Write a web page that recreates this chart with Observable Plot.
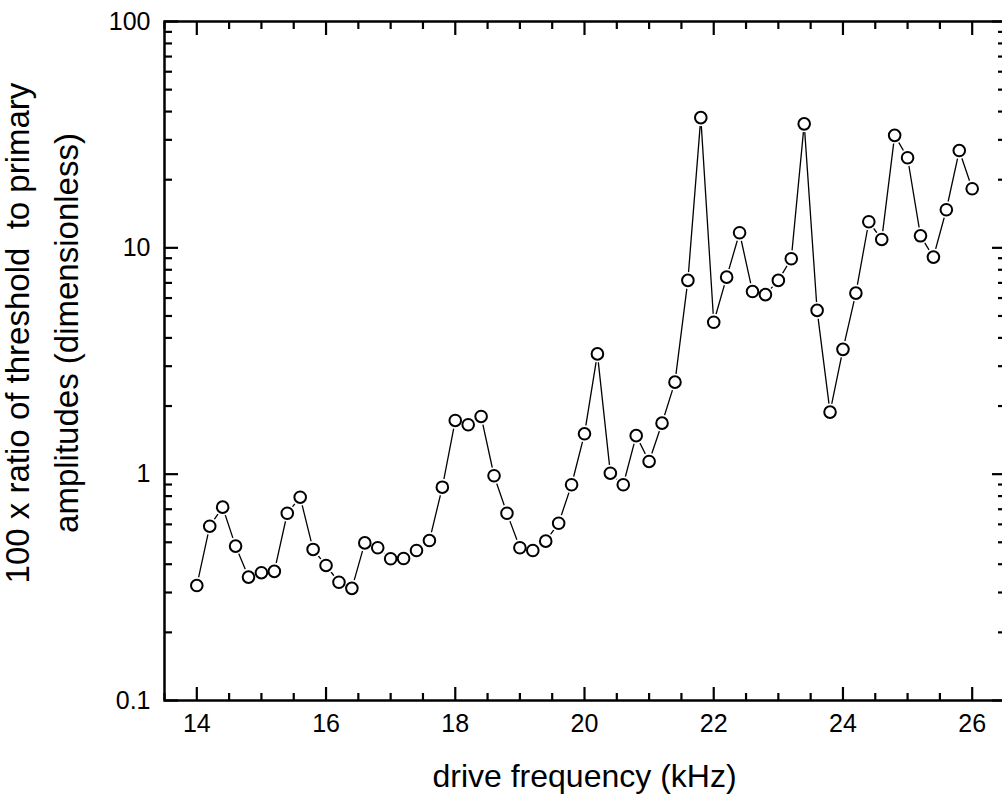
<!DOCTYPE html>
<html>
<head>
<meta charset="utf-8">
<script src="https://cdn.jsdelivr.net/npm/d3@7"></script>
<script src="https://cdn.jsdelivr.net/npm/@observablehq/plot@0.6"></script>
<style>
  html, body { margin: 0; padding: 0; background: #fff; overflow: hidden; }
  #chart svg { font-family: "Liberation Sans", Arial, Helvetica, sans-serif; }
</style>
</head>
<body>
<div id="chart"></div>
<script>
// drive frequency (kHz)
const freq = [14.0,14.2,14.4,14.6,14.8,15.0,15.2,15.4,15.6,15.8,
              16.0,16.2,16.4,16.6,16.8,17.0,17.2,17.4,17.6,17.8,
              18.0,18.2,18.4,18.6,18.8,19.0,19.2,19.4,19.6,19.8,
              20.0,20.2,20.4,20.6,20.8,21.0,21.2,21.4,21.6,21.8,
              22.0,22.2,22.4,22.6,22.8,23.0,23.2,23.4,23.6,23.8,
              24.0,24.2,24.4,24.6,24.8,25.0,25.2,25.4,25.6,25.8,26.0];
// 100 x ratio of threshold to primary amplitudes
const ratio = [0.322,0.589,0.715,0.481,0.351,0.367,0.372,0.672,0.791,0.465,
               0.395,0.333,0.313,0.497,0.473,0.423,0.424,0.460,0.509,0.876,
               1.727,1.653,1.799,0.984,0.672,0.473,0.460,0.506,0.607,0.898,
               1.508,3.40,1.01,0.898,1.48,1.138,1.68,2.55,7.18,37.6,
               4.69,7.42,11.66,6.41,6.21,7.18,8.95,35.3,5.29,1.88,
               3.56,6.31,13.04,10.89,31.4,25.0,11.3,9.10,14.73,26.9,18.24];

const xMajor = [14, 16, 18, 20, 22, 24, 26];
const xMinor = [13.5, 14.5, 15, 15.5, 16.5, 17, 17.5, 18.5, 19, 19.5, 20.5, 21, 21.5, 22.5, 23, 23.5, 24.5, 25, 25.5, 26.5];
const yMajor = [0.1, 1, 10, 100];
const yMajorLabels = ["0.1", "1", "10", "100"];
const yMinor = [0.2,0.3,0.4,0.5,0.6,0.7,0.8,0.9, 2,3,4,5,6,7,8,9, 20,30,40,50,60,70,80,90];

const xLabel = "drive frequency (kHz)";
const yLabel1 = "100 x ratio of threshold  to primary";
const yLabel2 = "amplitudes (dimensionless)";

const data = freq.map((f, i) => ({f, r: ratio[i]}));
const tickFont = 25;
const tk = {strokeWidth: 2.2, text: null, label: null};

const chart = Plot.plot({
  width: 1002,
  height: 796,
  marginLeft: 164,
  marginRight: -2,
  marginTop: 21,
  marginBottom: 96,
  style: {fontFamily: '"Liberation Sans", Arial, Helvetica, sans-serif', background: "#fff", color: "#000"},
  x: {domain: [13.5, 26.5]},
  y: {type: "log", domain: [0.1, 100]},
  marks: [
    // inward ticks
    Plot.axisX({anchor: "bottom", ticks: xMajor, tickSize: -13, ...tk}),
    Plot.axisX({anchor: "bottom", ticks: xMinor, tickSize: -7, ...tk}),
    Plot.axisX({anchor: "top", ticks: xMajor, tickSize: -13, ...tk}),
    Plot.axisX({anchor: "top", ticks: xMinor, tickSize: -7, ...tk}),
    Plot.axisY({anchor: "left", ticks: yMajor, tickSize: -14, ...tk}),
    Plot.axisY({anchor: "left", ticks: yMinor, tickSize: -8, ...tk}),
    Plot.axisY({anchor: "right", ticks: yMajor, tickSize: -13, ...tk}),
    Plot.axisY({anchor: "right", ticks: yMinor, tickSize: -7, ...tk}),
    // tick labels
    Plot.axisX({anchor: "bottom", ticks: xMajor, tickSize: 0, tickPadding: 14, fontSize: tickFont, tickFormat: d => String(d), label: null}),
    Plot.axisY({anchor: "left", ticks: yMajor, tickSize: 0, tickPadding: 14, fontSize: tickFont,
      tickFormat: d => yMajorLabels[yMajor.indexOf(d)], label: null}),
    Plot.frame({stroke: "#000", strokeWidth: 2.5}),
    // axis titles
    Plot.text([xLabel], {frameAnchor: "bottom", text: d => d, dy: 86, fontSize: 32, fill: "#000"}),
    Plot.text([yLabel1], {frameAnchor: "left", text: d => d, rotate: -90, textAnchor: "middle", lineAnchor: "middle",
      dx: -146, dy: -28, fontSize: 33, fill: "#000"}),
    Plot.text([yLabel2], {frameAnchor: "left", text: d => d, rotate: -90, textAnchor: "middle", lineAnchor: "middle",
      dx: -97, dy: -28, fontSize: 33, fill: "#000"}),
    // data
    Plot.line(data, {x: "f", y: "r", stroke: "#000", strokeWidth: 1.3}),
    Plot.dot(data, {x: "f", y: "r", r: 8.5, fill: "#fff", stroke: null}),
    Plot.dot(data, {x: "f", y: "r", r: 5.8, fill: "#fff", stroke: "#000", strokeWidth: 2})
  ]
});
document.getElementById("chart").appendChild(chart);
</script>
</body>
</html>
